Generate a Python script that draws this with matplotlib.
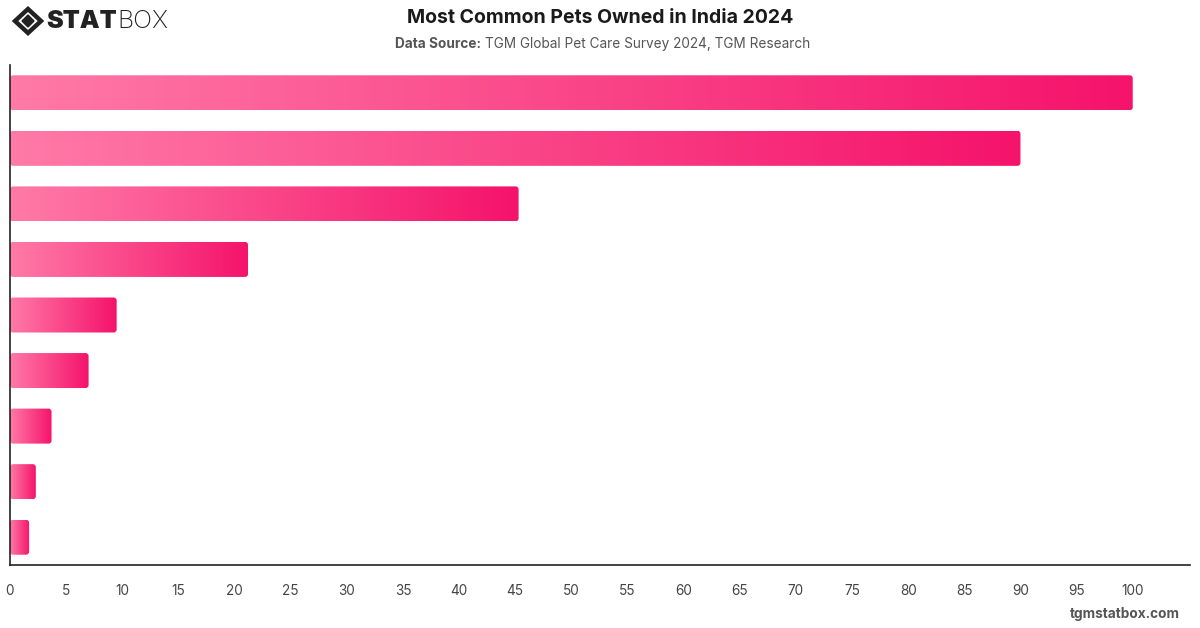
import numpy as np
import matplotlib.pyplot as plt
from matplotlib.patches import FancyBboxPatch, Polygon
from matplotlib.colors import LinearSegmentedColormap

# share of respondents owning each pet (category names are not shown on the chart)
values = [100, 90, 45.3, 21.2, 9.5, 7, 3.7, 2.3, 1.7]
x_ticks = list(range(0, 105, 5))

title = "Most Common Pets Owned in India 2024"
source_bold = "Data Source:"
source_text = "TGM Global Pet Care Survey 2024, TGM Research"

plt.rcParams['font.family'] = ['Inter', 'DejaVu Sans']

W, H = 1200, 628
fig = plt.figure(figsize=(W / 100, H / 100), dpi=100)
ax = fig.add_axes([10 / W, 63 / H, 1180 / W, 500 / H])

cmap = LinearSegmentedColormap.from_list("pink", ["#ff7aa7", "#f5136b"])
grad = np.linspace(0, 1, 256).reshape(1, -1)

n = len(values)
bar_h = 0.63
xmax = 105.1
# rounding in pixels -> data units
px_x = 1180 / xmax
px_y = 500 / n
for i, v in enumerate(values):
    patch = FancyBboxPatch((0, i - bar_h / 2), v, bar_h,
                           boxstyle="round,pad=0,rounding_size=%f" % (3 / px_x),
                           mutation_aspect=px_x / px_y,
                           facecolor="none", edgecolor="none")
    ax.add_patch(patch)
    im = ax.imshow(grad, extent=[0, v, i + bar_h / 2, i - bar_h / 2],
                   cmap=cmap, aspect="auto", interpolation="bicubic", zorder=2)
    im.set_clip_path(patch)

ax.set_xlim(0, xmax)
ax.set_ylim(n - 0.5, -0.5)
ax.set_xticks(x_ticks)
ax.set_yticks([])
ax.tick_params(axis="x", length=0, pad=14, labelsize=9.8, labelcolor="#444444")
for s in ["top", "right"]:
    ax.spines[s].set_visible(False)
for s in ["left", "bottom"]:
    ax.spines[s].set_color("#222222")
    ax.spines[s].set_linewidth(1.2)

# title and subtitle
fig.text(600 / W, 1 - 18 / H, title, ha="center", va="center",
         fontsize=14, fontweight="bold", color="#1a1a1a")
fig.text(481 / W, 1 - 44 / H, source_bold, ha="right", va="center",
         fontsize=9.8, fontweight="bold", color="#555555")
fig.text(485 / W, 1 - 44 / H, source_text, ha="left", va="center",
         fontsize=9.8, color="#555555")

# logo
def fx(x):
    return x / W

def fy(y):
    return 1 - y / H

cx, cy = 28, 21
outer = [(cx - 13, cy), (cx, cy - 12), (cx + 13, cy), (cx, cy + 12)]
inner = [(cx - 6, cy), (cx, cy - 6), (cx + 6, cy), (cx, cy + 6)]
fig.patches.append(Polygon([(fx(a), fy(b)) for a, b in outer], closed=True,
                           transform=fig.transFigure, facecolor="none",
                           edgecolor="#222222", linewidth=3.2))
fig.patches.append(Polygon([(fx(a), fy(b)) for a, b in inner], closed=True,
                           transform=fig.transFigure, facecolor="#222222",
                           edgecolor="#222222"))
stat = fig.text(fx(46), fy(22), "STAT", ha="left", va="center", fontsize=18,
                fontweight="black", color="#222222")
fig.canvas.draw()
bb = stat.get_window_extent()
fig.text(fx(bb.x1 + 1), fy(22), "BOX", ha="left", va="center", fontsize=18,
         fontweight="light", color="#222222")

fig.text(fx(1180), fy(614), "tgmstatbox.com", ha="right", va="center",
         fontsize=9.8, fontweight="bold", color="#555555")

fig.savefig("out.png", dpi=100)
